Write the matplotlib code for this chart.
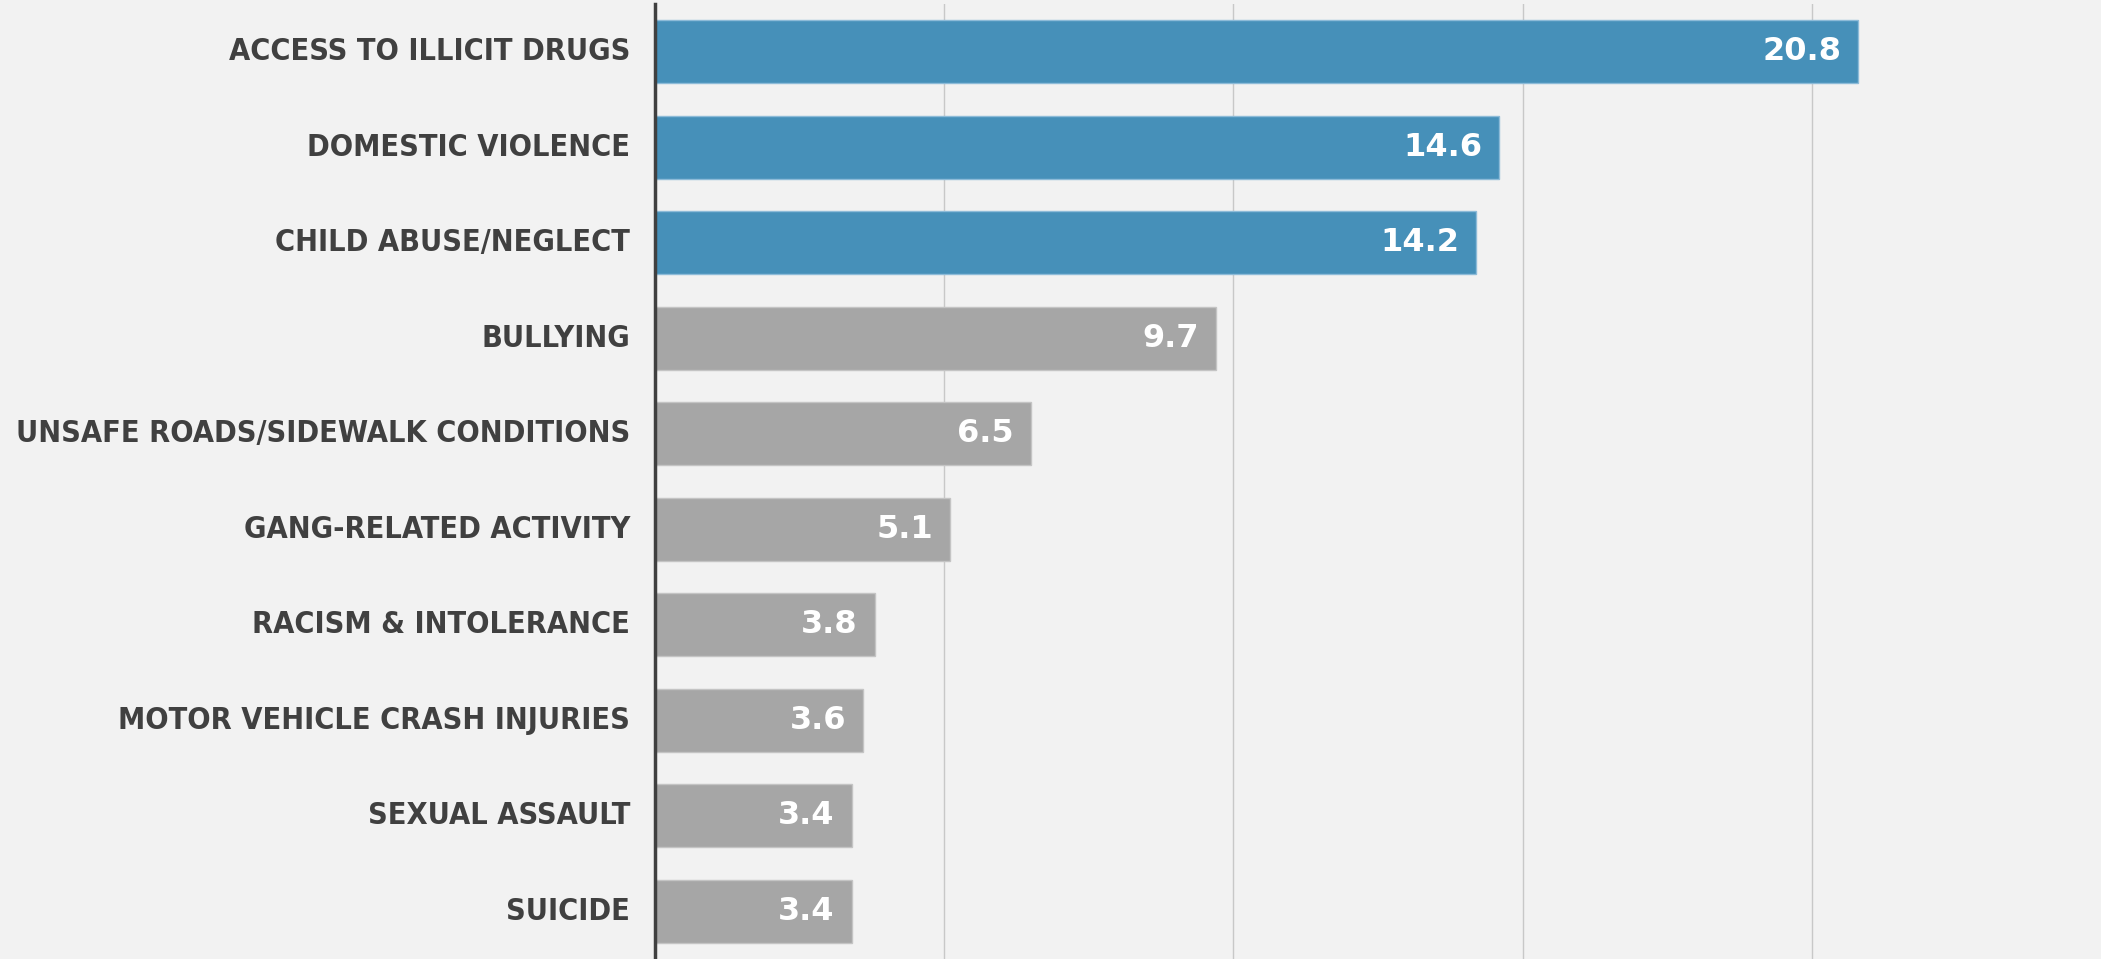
import matplotlib
matplotlib.use("Agg")
import matplotlib.pyplot as plt

# data, top to bottom
categories = [
    "ACCESS TO ILLICIT DRUGS",
    "DOMESTIC VIOLENCE",
    "CHILD ABUSE/NEGLECT",
    "BULLYING",
    "UNSAFE ROADS/SIDEWALK CONDITIONS",
    "GANG-RELATED ACTIVITY",
    "RACISM & INTOLERANCE",
    "MOTOR VEHICLE CRASH INJURIES",
    "SEXUAL ASSAULT",
    "SUICIDE",
]
values = [20.8, 14.6, 14.2, 9.7, 6.5, 5.1, 3.8, 3.6, 3.4, 3.4]
highlighted = 3  # first three bars are blue
x_ticks = [0, 5, 10, 15, 20]

bg = "#F2F2F2"
blue = "#4690B9"
grey = "#A6A6A6"
text_col = "#404040"

fig = plt.figure(figsize=(21.01, 9.59), dpi=100, facecolor=bg)
ax = fig.add_axes([655 / 2101, 0, 1 - 655 / 2101, 955 / 959])
ax.set_facecolor(bg)

y = list(range(len(categories)))
colors = [blue if i < highlighted else grey for i in y]
edges = ["#8DBBD8" if i < highlighted else "#C4C4C4" for i in y]
ax.barh(y, values, height=0.66, color=colors, edgecolor=edges, linewidth=1, zorder=3)

# value labels inside bar ends
for i, v in enumerate(values):
    ax.annotate(f"{v:.1f}", (v, i), xytext=(-17, 0), textcoords="offset pixels",
                ha="right", va="center", color="white", fontsize=23,
                fontweight="bold", zorder=4)

ax.set_xlim(0, 25)
ax.set_ylim(len(categories) - 0.5, -0.5)
ax.set_xticks(x_ticks)
ax.xaxis.grid(True, color="#C8C8C8", linewidth=1)
ax.set_axisbelow(True)
ax.tick_params(axis="x", length=0, labelbottom=False)
ax.tick_params(axis="y", length=0, pad=18)

ax.set_yticks(y)
ax.set_yticklabels(categories, fontsize=22, fontweight="bold", color=text_col,
                   fontstretch="condensed")
for lbl in ax.get_yticklabels():
    lbl.set_va("center")

for s in ["top", "right", "bottom"]:
    ax.spines[s].set_visible(False)
ax.spines["left"].set_color(text_col)
ax.spines["left"].set_linewidth(2.5)
ax.spines["left"].set_zorder(5)

fig.savefig("out.png", dpi=100, facecolor=bg)
